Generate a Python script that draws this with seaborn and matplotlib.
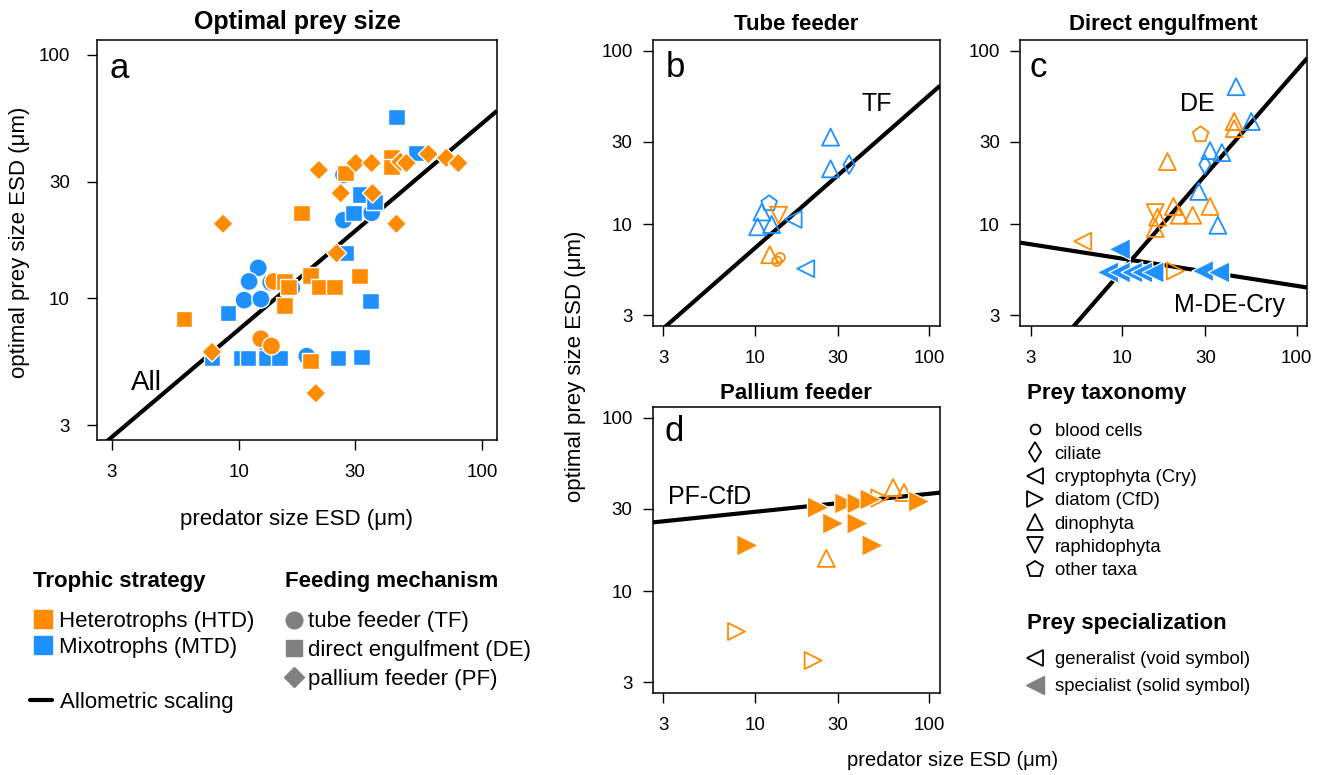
import numpy as np
import pandas as pd
import matplotlib
matplotlib.use('Agg')
import matplotlib.pyplot as plt
from matplotlib.lines import Line2D
import seaborn as sns

ORANGE = '#FF8C00'
BLUE = '#1E90FF'
GREY = '#808080'

# ---- panel a : optimal prey size of all predators ----
a_x = [12.0, 11.0, 10.5, 12.3, 13.5, 16.5, 19.0, 12.9, 26.9, 26.9, 35.1,          # MTD tube feeders
       9.0, 7.74, 10.2, 10.9, 12.9, 14.7, 25.5, 31.9, 34.8, 44.4, 53.6, 31.6,    # MTD direct engulfment
       36.1, 29.6, 27.4,
       13.9, 12.3, 13.6,                                                         # HTD tube feeders
       5.95, 15.4, 16.0, 15.4, 19.7, 21.3, 24.7, 31.3, 19.7, 18.1, 27.4, 42.4,   # HTD direct engulfment
       42.4,
       8.6, 21.3, 30.2, 35.1, 26.2, 35.4, 25.2, 44.4, 7.74, 20.7, 46.1, 48.8,    # HTD pallium feeders
       60.1, 71.2, 79.7]
a_y = [13.3, 11.7, 9.8, 9.9, 11.6, 11.0, 5.77, 6.5, 32.1, 20.9, 22.4,
       8.7, 5.66, 5.66, 5.66, 5.66, 5.66, 5.66, 5.71, 9.7, 55.6, 39.5, 26.6,
       24.8, 22.4, 15.3,
       11.7, 6.8, 6.35,
       8.2, 11.7, 11.1, 9.3, 12.4, 11.1, 11.1, 12.3, 5.5, 22.4, 32.7, 38.0,
       34.6,
       20.2, 33.6, 35.9, 35.9, 27.0, 27.0, 15.3, 20.2, 6.0, 4.06, 36.3, 35.9,
       39.1, 37.7, 35.9]
a_troph = ['MTD'] * 26 + ['HTD'] * 31
a_mech = ['TF'] * 11 + ['DE'] * 15 + ['TF'] * 3 + ['DE'] * 13 + ['PF'] * 15

# ---- panel b : tube feeders ----
b_x = [27.2, 27.2, 34.7, 12.1, 11.0, 10.4, 12.5, 16.6, 19.6, 13.7, 12.2, 14.0, 13.4]
b_y = [31.8, 20.9, 22.1, 13.2, 11.8, 9.7, 10.0, 10.7, 5.57, 11.3, 6.7, 6.45, 6.15]
b_troph = ['MTD'] * 9 + ['HTD'] * 4
b_taxon = ['dinophyta', 'dinophyta', 'ciliate', 'other taxa', 'dinophyta', 'dinophyta',
           'dinophyta', 'cryptophyta', 'cryptophyta', 'raphidophyta', 'dinophyta',
           'blood cells', 'blood cells']
b_spec = ['generalist'] * 13

# ---- panel c : direct engulfment ----
c_x = [45.0, 55.0, 31.9, 37.3, 27.5, 35.4, 29.8,
       43.9, 43.9, 18.2, 19.7, 21.3, 25.4, 31.9, 16.0, 15.5, 15.5, 28.2, 5.96, 20.2,
       9.7, 8.3, 9.7, 11.4, 13.0, 15.1, 29.0, 35.9]
c_y = [62.0, 39.1, 26.6, 25.9, 15.5, 9.9, 22.1,
       39.1, 35.6, 23.0, 12.7, 11.3, 11.3, 12.7, 11.0, 9.5, 11.7, 32.9, 8.0, 5.4,
       7.2, 5.3, 5.3, 5.3, 5.3, 5.3, 5.4, 5.3]
c_troph = ['MTD'] * 7 + ['HTD'] * 13 + ['MTD'] * 8
c_taxon = ['dinophyta'] * 6 + ['ciliate'] + ['dinophyta'] * 9 + \
          ['raphidophyta', 'other taxa', 'cryptophyta', 'diatom'] + ['cryptophyta'] * 8
c_spec = ['generalist'] * 20 + ['specialist'] * 8

# ---- panel d : pallium feeders ----
d_x = [23.1, 33.1, 38.9, 46.2, 87.5, 28.2, 38.9, 9.1, 47.4,
       7.87, 21.6, 52.0, 62.0, 71.6, 25.7]
d_y = [30.4, 32.1, 32.1, 33.8, 32.9, 24.6, 24.6, 18.4, 18.4,
       5.89, 4.01, 34.5, 39.6, 37.1, 15.5]
d_troph = ['HTD'] * 15
d_taxon = ['diatom'] * 12 + ['dinophyta'] * 3
d_spec = ['specialist'] * 9 + ['generalist'] * 6

# ---- allometric fits  log10(y) = a + b*log10(x) ----
fit_label = ['All', 'TF', 'DE', 'M-DE-Cry', 'PF-CfD']
fit_a = [0.024, -0.018, -0.419, 0.961, 1.354]
fit_b = [0.847, 0.881, 1.153, -0.157, 0.104]

palette = {'HTD': ORANGE, 'MTD': BLUE}
mech_markers = {'TF': 'o', 'DE': 's', 'PF': 'D'}
mech_sizes = {'TF': 170, 'DE': 140, 'PF': 105}
tax_markers = {'blood cells': 'o', 'ciliate': 'd', 'cryptophyta': '<', 'diatom': '>',
               'dinophyta': '^', 'raphidophyta': 'v', 'other taxa': 'p'}
tax_sizes = {'blood cells': 45, 'ciliate': 90, 'cryptophyta': 150, 'diatom': 150,
             'dinophyta': 150, 'raphidophyta': 150, 'other taxa': 140}

sns.set_theme(style='ticks')
plt.rcParams['font.family'] = ['Liberation Sans', 'DejaVu Sans']
plt.rcParams['text.color'] = 'black'
plt.rcParams['axes.labelcolor'] = 'black'
plt.rcParams['xtick.color'] = 'black'
plt.rcParams['ytick.color'] = 'black'
plt.rcParams['axes.linewidth'] = 1.1
plt.rcParams['axes.edgecolor'] = 'black'
plt.rcParams['xtick.major.size'] = 7.5
plt.rcParams['ytick.major.size'] = 7.5
plt.rcParams['xtick.major.width'] = 1.0
plt.rcParams['ytick.major.width'] = 1.0
plt.rcParams['xtick.major.pad'] = 10
plt.rcParams['ytick.major.pad'] = 7
plt.rcParams['xtick.labelsize'] = 13.5
plt.rcParams['ytick.labelsize'] = 13.5

W, H = 1322, 775
fig = plt.figure(figsize=(W / 100, H / 100), dpi=100)


def fpos(x, y):
    return x / W, 1 - y / H


ax_a = fig.add_axes([97 / W, 1 - 440 / H, 400 / W, 400 / H])
ax_b = fig.add_axes([652.7 / W, 1 - 326 / H, 287.3 / W, 286 / H])
ax_c = fig.add_axes([1020 / W, 1 - 326 / H, 287.3 / W, 286 / H])
ax_d = fig.add_axes([652.7 / W, 1 - 693 / H, 287.3 / W, 286 / H])

lo = 10 ** (np.log10(3) - 0.04 * np.log10(100 / 3))
hi = 10 ** (2 + 0.04 * np.log10(100 / 3))
xline = np.geomspace(lo, hi, 50)

for ax in [ax_a, ax_b, ax_c, ax_d]:
    ax.set_xscale('log')
    ax.set_yscale('log')
    ax.set_xlim(lo, hi)
    ax.set_ylim(lo, hi)
    ax.set_xticks([3, 10, 30, 100], ['3', '10', '30', '100'])
    ax.set_yticks([3, 10, 30, 100], ['3', '10', '30', '100'])
    ax.minorticks_off()
    ax.grid(False)
    for s in ax.spines.values():
        s.set_visible(True)
ax_a.tick_params(axis='y', pad=12)


def fit_line(ax, name):
    i = fit_label.index(name)
    yl = 10 ** (fit_a[i] + fit_b[i] * np.log10(xline))
    ax.plot(xline, yl, color='black', lw=3, solid_capstyle='butt', zorder=2)


def draw_points(ax, xs, ys, troph, taxon, spec):
    df = pd.DataFrame({'x': xs, 'y': ys, 'troph': troph, 'taxon': taxon, 'spec': spec})
    for kind in ['generalist', 'specialist']:
        sub = df[df.spec == kind]
        if len(sub) == 0:
            continue
        scale = 1.0 if kind == 'generalist' else 1.6
        sizes = {k: v * scale for k, v in tax_sizes.items()}
        sns.scatterplot(data=sub, x='x', y='y', hue='troph', style='taxon', size='taxon',
                        palette=palette, markers=tax_markers, sizes=sizes,
                        edgecolor='white', linewidth=0.9, legend=False, ax=ax, zorder=3)
        if kind == 'generalist':
            coll = ax.collections[-1]
            fc = coll.get_facecolors().copy()
            coll.set_edgecolors(fc)
            coll.set_facecolors('none')
            coll.set_linewidths(1.3)
    ax.set_xlabel('')
    ax.set_ylabel('')


# panel a
fit_line(ax_a, 'All')
df_a = pd.DataFrame({'x': a_x, 'y': a_y, 'troph': a_troph, 'mech': a_mech})
sns.scatterplot(data=df_a, x='x', y='y', hue='troph', style='mech', size='mech',
                palette=palette, markers=mech_markers, sizes=mech_sizes,
                edgecolor='white', linewidth=1.0, legend=False, ax=ax_a, zorder=3)
ax_a.set_xlabel('')
ax_a.set_ylabel('')
ax_a.set_title('Optimal prey size', fontsize=18, fontweight='bold', pad=8)
ax_a.text(0.055, 0.93, 'a', transform=ax_a.transAxes, fontsize=25, ha='center', va='center')
ax_a.text(0.124, 0.143, 'All', transform=ax_a.transAxes, fontsize=20, ha='center', va='center')

# panel b
fit_line(ax_b, 'TF')
draw_points(ax_b, b_x, b_y, b_troph, b_taxon, b_spec)
ax_b.set_title('Tube feeder', fontsize=16, fontweight='bold', pad=7)
ax_b.text(0.078, 0.905, 'b', transform=ax_b.transAxes, fontsize=25, ha='center', va='center')
ax_b.text(0.781, 0.776, 'TF', transform=ax_b.transAxes, fontsize=18, ha='center', va='center')

# panel c
fit_line(ax_c, 'DE')
fit_line(ax_c, 'M-DE-Cry')
draw_points(ax_c, c_x, c_y, c_troph, c_taxon, c_spec)
ax_c.set_title('Direct engulfment', fontsize=16, fontweight='bold', pad=7)
ax_c.text(0.065, 0.905, 'c', transform=ax_c.transAxes, fontsize=25, ha='center', va='center')
ax_c.text(0.617, 0.776, 'DE', transform=ax_c.transAxes, fontsize=18, ha='center', va='center')
ax_c.text(0.728, 0.075, 'M-DE-Cry', transform=ax_c.transAxes, fontsize=18, ha='center', va='center')

# panel d
fit_line(ax_d, 'PF-CfD')
draw_points(ax_d, d_x, d_y, d_troph, d_taxon, d_spec)
ax_d.set_title('Pallium feeder', fontsize=16, fontweight='bold', pad=6)
ax_d.text(0.074, 0.915, 'd', transform=ax_d.transAxes, fontsize=25, ha='center', va='center')
ax_d.text(0.197, 0.685, 'PF-CfD', transform=ax_d.transAxes, fontsize=18, ha='center', va='center')

# axis labels
ylab = 'optimal prey size ESD (\u03bcm)'
xlab = 'predator size ESD (\u03bcm)'
fig.text(*fpos(20, 242), ylab, rotation=90, fontsize=16, ha='center', va='center')
fig.text(*fpos(297, 520), xlab, fontsize=16, ha='center', va='center')
fig.text(*fpos(575, 366), ylab, rotation=90, fontsize=16, ha='center', va='center')
fig.text(*fpos(953, 761), xlab, fontsize=14.5, ha='center', va='center')

# legends
fig.text(*fpos(33, 581), 'Trophic strategy', fontsize=16, fontweight='bold', va='center')
fig.text(*fpos(285, 581), 'Feeding mechanism', fontsize=16, fontweight='bold', va='center')
fig.text(*fpos(1027, 394), 'Prey taxonomy', fontsize=16, fontweight='bold', va='center')
fig.text(*fpos(1027, 624), 'Prey specialization', fontsize=16, fontweight='bold', va='center')

common = dict(frameon=False, borderpad=0, borderaxespad=0, loc='upper left')

h_troph = [Line2D([], [], ls='', marker='s', ms=13, mfc=ORANGE, mec=ORANGE),
           Line2D([], [], ls='', marker='s', ms=13, mfc=BLUE, mec=BLUE)]
fig.legend(h_troph, ['Heterotrophs (HTD)', 'Mixotrophs (MTD)'], bbox_to_anchor=fpos(33, 611),
           prop={'size': 16}, handlelength=0.9, handletextpad=0.25, labelspacing=0.22, **common)

fig.legend([Line2D([], [], color='black', lw=3)], ['Allometric scaling'], bbox_to_anchor=fpos(30, 692),
           prop={'size': 16}, handlelength=1.0, handletextpad=0.35, **common)

h_mech = [Line2D([], [], ls='', marker='o', ms=12, mfc=GREY, mec=GREY),
          Line2D([], [], ls='', marker='s', ms=11, mfc=GREY, mec=GREY),
          Line2D([], [], ls='', marker='D', ms=10, mfc=GREY, mec=GREY)]
fig.legend(h_mech, ['tube feeder (TF)', 'direct engulfment (DE)', 'pallium feeder (PF)'],
           bbox_to_anchor=fpos(285, 611.5), prop={'size': 16}, handlelength=0.85,
           handletextpad=0.2, labelspacing=0.34, **common)

tax_names = ['blood cells', 'ciliate', 'cryptophyta (Cry)', 'diatom (CfD)', 'dinophyta',
             'raphidophyta', 'other taxa']
tax_ms = [7, 10, 12, 12, 12, 12, 12]
h_tax = [Line2D([], [], ls='', marker=m, ms=s, mfc='none', mec='black', mew=1.3)
         for m, s in zip(tax_markers.values(), tax_ms)]
fig.legend(h_tax, tax_names, bbox_to_anchor=fpos(1027, 422.5), prop={'size': 13.3},
           handlelength=0.9, handletextpad=0.6, labelspacing=0.34, **common)

h_spec = [Line2D([], [], ls='', marker='<', ms=12, mfc='none', mec='black', mew=1.3),
          Line2D([], [], ls='', marker='<', ms=13, mfc=GREY, mec=GREY)]
fig.legend(h_spec, ['generalist (void symbol)', 'specialist (solid symbol)'],
           bbox_to_anchor=fpos(1027, 651.5), prop={'size': 13.3}, handlelength=0.9,
           handletextpad=0.6, labelspacing=0.52, **common)

fig.savefig('out.png', dpi=100)
